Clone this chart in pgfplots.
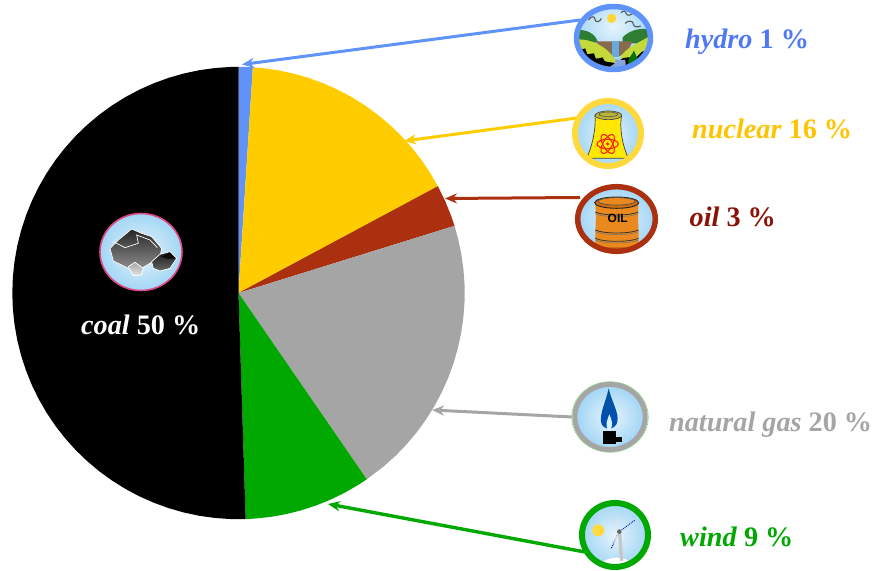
\documentclass[border=0pt]{standalone}
\usepackage{fontspec}
\setmainfont{Liberation Serif}
\newfontfamily\barrelfont{Liberation Sans}
\usepackage{pgfplots}
\pgfplotsset{compat=1.18}
\usetikzlibrary{arrows.meta}
\definecolor{hydroC}{HTML}{5F93FA}
\definecolor{hydroT}{HTML}{4F78F5}
\definecolor{nuclearC}{HTML}{FFCC00}
\definecolor{nuclearR}{HTML}{FFD93B}
\definecolor{nuclearT}{HTML}{FFC400}
\definecolor{oilC}{HTML}{AB300F}
\definecolor{oilT}{HTML}{8B1208}
\definecolor{gasC}{HTML}{A5A5A5}
\definecolor{windC}{HTML}{00A800}
\definecolor{skyIn}{HTML}{E6F4FC}
\definecolor{skyOut}{HTML}{A3D6F5}
\definecolor{hillLight}{HTML}{C4D93A}
\definecolor{hillDark}{HTML}{2E7D32}
\definecolor{barrel}{HTML}{EA8A1E}
\definecolor{barrelDark}{HTML}{CC6C12}
\newcommand{\lab}[6]{\node[anchor=base west,inner sep=0pt,text=#4,font=\fontsize{#5}{#5}\selectfont] at (#1,#2) {\textbf{\textit{#3}} \textbf{#6}};}
\newcommand{\sky}[4]{\shade[inner color=skyIn,outer color=skyOut] (#1,#2) ellipse [x radius=#3,y radius=#4];}
\begin{document}
\begin{tikzpicture}
\useasboundingbox (0,0) rectangle (878bp,571bp);
\begin{axis}[
  at={(0,0)}, anchor=south west,
  scale only axis, width=878bp, height=571bp,
  xmin=-238.5, xmax=639.5, ymin=-278, ymax=293,
  hide axis, clip=false]
% Sectors run clockwise from the top; each spans share/99 of the circle
% (shares: hydro 1, nuclear 16, oil 3, gas 20, wind 9, coal 50).
\addplot[data cs=polar, draw=none, fill=hydroC, mark=none] coordinates {
 (0,0) (90,226.2) (88,226.2) (86.36,226.2)} -- cycle;
\addplot[data cs=polar, draw=none, fill=nuclearC, mark=none] coordinates {
 (0,0) (86.36,226.2) (84,226.2) (80,226.2) (76,226.2) (72,226.2) (68,226.2) (64,226.2) (60,226.2)
 (56,226.2) (52,226.2) (48,226.2) (44,226.2) (40,226.2) (36,226.2) (32,226.2) (28.18,226.2)} -- cycle;
\addplot[data cs=polar, draw=none, fill=oilC, mark=none] coordinates {
 (0,0) (28.18,226.2) (24,226.2) (20,226.2) (17.27,226.2)} -- cycle;
\addplot[data cs=polar, draw=none, fill=gasC, mark=none] coordinates {
 (0,0) (17.27,226.2) (14,226.2) (10,226.2) (6,226.2) (2,226.2) (-2,226.2) (-6,226.2) (-10,226.2)
 (-14,226.2) (-18,226.2) (-22,226.2) (-26,226.2) (-30,226.2) (-34,226.2) (-38,226.2) (-42,226.2)
 (-46,226.2) (-50,226.2) (-55.45,226.2)} -- cycle;
\addplot[data cs=polar, draw=none, fill=windC, mark=none] coordinates {
 (0,0) (-55.45,226.2) (-58,226.2) (-62,226.2) (-66,226.2) (-70,226.2) (-74,226.2) (-78,226.2)
 (-82,226.2) (-86,226.2) (-88.18,226.2)} -- cycle;
\addplot[data cs=polar, draw=none, fill=black, mark=none] coordinates {
 (0,0) (-88.18,226.2) (-92,226.2) (-96,226.2) (-100,226.2) (-104,226.2) (-108,226.2) (-112,226.2)
 (-116,226.2) (-120,226.2) (-124,226.2) (-128,226.2) (-132,226.2) (-136,226.2) (-140,226.2)
 (-144,226.2) (-148,226.2) (-152,226.2) (-156,226.2) (-160,226.2) (-164,226.2) (-168,226.2)
 (-172,226.2) (-176,226.2) (-180,226.2) (-184,226.2) (-188,226.2) (-192,226.2) (-196,226.2)
 (-200,226.2) (-204,226.2) (-208,226.2) (-212,226.2) (-216,226.2) (-220,226.2) (-224,226.2)
 (-228,226.2) (-232,226.2) (-236,226.2) (-240,226.2) (-244,226.2) (-248,226.2) (-252,226.2)
 (-256,226.2) (-260,226.2) (-264,226.2) (-268,226.2) (-270,226.2)} -- cycle;
\end{axis}

% Callouts, badges and captions, positioned from the top left corner
\begin{scope}[shift={(0,571bp)},x=1bp,y=-1bp]
\begin{scope}[line width=3bp,-{Stealth[length=12bp,width=10bp]}]
\draw[hydroC] (580,20) -- (242,64.5);
\draw[nuclearC] (577,118) -- (404,141);
\draw[oilC] (580,197.5) -- (445,198.5);
\draw[gasC] (572,417) -- (432,410);
\draw[windC,line width=3.4bp] (585,552) -- (328,504);
\end{scope}

% Hydro badge
\begin{scope}
\clip (613.5,38) ellipse [x radius=36,y radius=31];
\sky{613.5}{26}{38}{34}
\begin{scope}[shift={(560,0)},scale=1/3]
\fill[black] (55,130) -- (170,190) -- (130,225) -- (55,225) -- cycle;
\fill[black] (275,120) -- (275,225) -- (180,225) -- (180,180) -- cycle;
\fill[hillDark] (50,90) .. controls (80,88) and (105,100) .. (115,128) -- (50,128) -- cycle;
\fill[hillDark] (188,112) .. controls (205,95) and (235,80) .. (275,90) -- (275,130) -- (188,130) -- cycle;
\fill[black!45!brown!80] (108,124) -- (218,124) -- (205,150) -- (180,168) -- (150,168) -- (125,150) -- cycle;
\fill[cyan!65!blue!60] (156,124) rectangle (176,170);
\fill[hillLight] (55,118) .. controls (100,118) and (150,145) .. (172,190)
  -- (135,184) -- (128,172) -- (108,176) -- (102,160) -- (82,162) -- (76,145) -- (55,150) -- cycle;
\fill[hillLight] (178,175) .. controls (200,140) and (235,130) .. (275,105)
  -- (275,148) -- (245,155) -- (228,172) -- (205,172) -- cycle;
\fill[cyan!50!blue!50] (140,225) .. controls (130,198) and (175,198) .. (165,178) -- (195,180)
  .. controls (205,200) and (180,205) .. (190,225) -- cycle;
\fill[green!45!black] (222,152) -- (240,195) -- (232,208) -- (205,208) -- (205,180) -- cycle;
\fill[nuclearC!80!white] (155,55) circle (14);
\draw[black!65,line width=1.1bp] (85,60) .. controls (95,45) and (105,50) .. (105,58) .. controls (105,68) and (120,68) .. (124,55);
\draw[black!65,line width=1.1bp] (183,38) .. controls (190,30) and (200,35) .. (200,42) .. controls (200,48) and (212,46) .. (217,42);
\draw[black!65,line width=1.1bp] (195,70) .. controls (205,60) and (220,62) .. (220,72) .. controls (220,82) and (235,82) .. (242,78);
\end{scope}
\end{scope}
\draw[hydroC,line width=5.5bp] (613.5,38) ellipse [x radius=37,y radius=31.5];

% Nuclear badge
\begin{scope}
\clip (608,133.5) ellipse [x radius=33,y radius=33];
\sky{608}{133.5}{33}{33}
\begin{scope}[shift={(560,90)},scale=1/3]
\filldraw[fill=yellow!90!orange,draw=black!75,line width=0.7bp] (105,75) .. controls (108,110) and (100,160) .. (80,205) -- (205,205) .. controls (185,160) and (178,110) .. (185,75) -- cycle;
\filldraw[fill=yellow!70!black,draw=black!70,line width=0.7bp] (145,76) ellipse [x radius=40,y radius=13];
\draw[draw=black!70,line width=0.5bp] (145,73) ellipse [x radius=28,y radius=7];
\begin{scope}[draw=red!80!orange,line width=1bp]
\draw (143,162) ellipse [x radius=32,y radius=14];
\draw[rotate around={60:(143,162)}] (143,162) ellipse [x radius=32,y radius=14];
\draw[rotate around={-60:(143,162)}] (143,162) ellipse [x radius=32,y radius=14];
\fill[red!80!orange] (143,162) circle (5);
\end{scope}
\end{scope}
\end{scope}
\draw[nuclearR,line width=6bp] (608,133.5) ellipse [x radius=33,y radius=32.5];

% Oil badge
\begin{scope}
\clip (616.5,219) ellipse [x radius=38,y radius=31.5];
\sky{616.5}{219}{38}{32}
\begin{scope}[shift={(560,90)},scale=1/3]
\fill[barrel] (105,338) .. controls (112,400) and (100,440) .. (110,500) -- (232,500) .. controls (242,440) and (230,400) .. (236,338) -- cycle;
\fill[barrelDark] (110,470) rectangle (232,500);
\foreach \yy in {366,420,445} {
  \draw[black!80,line width=0.8bp] (106,\yy) .. controls (130,\yy+12) and (210,\yy+12) .. (235,\yy);
  \draw[black!55,line width=0.5bp] (106,\yy+5) .. controls (130,\yy+17) and (210,\yy+17) .. (235,\yy+5);
}
\filldraw[fill=barrelDark,draw=black!85,line width=0.9bp] (170,338) ellipse [x radius=66,y radius=17];
\draw[black!70,line width=0.6bp,fill=barrel] (170,334) ellipse [x radius=56,y radius=11];
\node[font=\barrelfont\bfseries\fontsize{12}{12}\selectfont,text=black,inner sep=0] at (173,386) {OIL};
\end{scope}
\end{scope}
\draw[oilC,line width=5.5bp] (616.5,219) ellipse [x radius=38.8,y radius=32.3];

% Gas badge
\sky{610}{417}{33}{31}
\begin{scope}[shift={(560,375)},scale=1/3]
\shade[top color=blue!45!cyan!60!black,bottom color=blue!60!cyan!75!black]
 (146,40) .. controls (155,80) and (178,115) .. (172,140) .. controls (168,165) and (128,170) .. (123,140) .. controls (120,110) and (138,80) .. (146,40) -- cycle;
\fill[white!85!cyan] (148,118) .. controls (155,135) and (162,150) .. (150,165) -- (144,165) .. controls (134,150) and (142,135) .. (148,118) -- cycle;
\fill[black] (130,168) rectangle (168,208);
\fill[black] (168,187) rectangle (185,202);
\end{scope}
\draw[green!55!gray!70,line width=0.5bp] (610,417) ellipse [x radius=38.3,y radius=35.3];
\draw[gasC,line width=5bp] (610,417) ellipse [x radius=35.2,y radius=32.6];

% Wind badge
\begin{scope}
\clip (615,535) ellipse [x radius=33,y radius=32];
\sky{615}{535}{33}{32}
\begin{scope}[shift={(560,375)},scale=1/3]
\fill[white] (125,565) .. controls (140,545) and (195,540) .. (215,565) -- (215,590) -- (125,590) -- cycle;
\fill[nuclearC!75!white] (115,466) circle (18);
\fill[black!22] (174,475) -- (184,475) -- (190,558) -- (180,558) -- cycle;
\fill[white!85!black] (180,470) -- (152,432) -- (158,430) -- (172,462) -- cycle;
\fill[black!60] (178,470) circle (7);
\draw[blue!70!black,line width=0.9bp,densely dotted] (185,465) -- (224,436);
\draw[blue!70!black,line width=0.9bp,densely dotted] (172,480) -- (153,522);
\draw[white!85!black,line width=1bp] (172,480) -- (162,503);
\end{scope}
\end{scope}
\draw[windC,line width=6bp] (615,535) ellipse [x radius=33,y radius=32];

% Coal badge
\sky{141}{252}{41}{38.5}
\begin{scope}[shift={(70,205)},scale=1/3]
\shade[top color=black!85,bottom color=black!45,draw=white,line width=0.7bp]
 (120,130) -- (145,105) -- (185,72) -- (215,85) -- (245,95) -- (275,130) -- (270,155) -- (240,175)
 -- (215,190) -- (175,190) -- (130,168) -- cycle;
\draw[white,line width=0.7bp] (130,110) -- (165,128) -- (205,115) -- (200,90) -- (240,105) -- (262,128);
\shade[top color=black!90,bottom color=black!60,draw=white,line width=0.7bp]
 (245,170) -- (270,148) -- (300,140) -- (320,160) -- (300,190) -- (270,198) -- (250,190) -- cycle;
\fill[black!95] (272,155) -- (300,143) -- (316,160) -- (295,162) -- cycle;
\shade[top color=black!35,bottom color=black!10,draw=white,line width=0.7bp]
 (175,185) -- (195,172) -- (220,190) -- (215,210) -- (190,212) -- cycle;
\end{scope}
\draw[magenta!55!purple!80!white,line width=1.6bp] (141,252) ellipse [x radius=41,y radius=38.5];

% Captions
\lab{685}{49}{hydro}{hydroT}{28.3}{1 \%}
\lab{692}{139}{nuclear}{nuclearT}{28.3}{16 \%}
\lab{689.5}{227}{oil}{oilT}{28.3}{3 \%}
\lab{669}{432}{natural gas}{gasC}{28.3}{20 \%}
\lab{680}{547}{wind}{windC}{28.3}{9 \%}
\lab{81}{335}{coal}{white}{28.3}{50 \%}
\end{scope}
\end{tikzpicture}
\end{document}
